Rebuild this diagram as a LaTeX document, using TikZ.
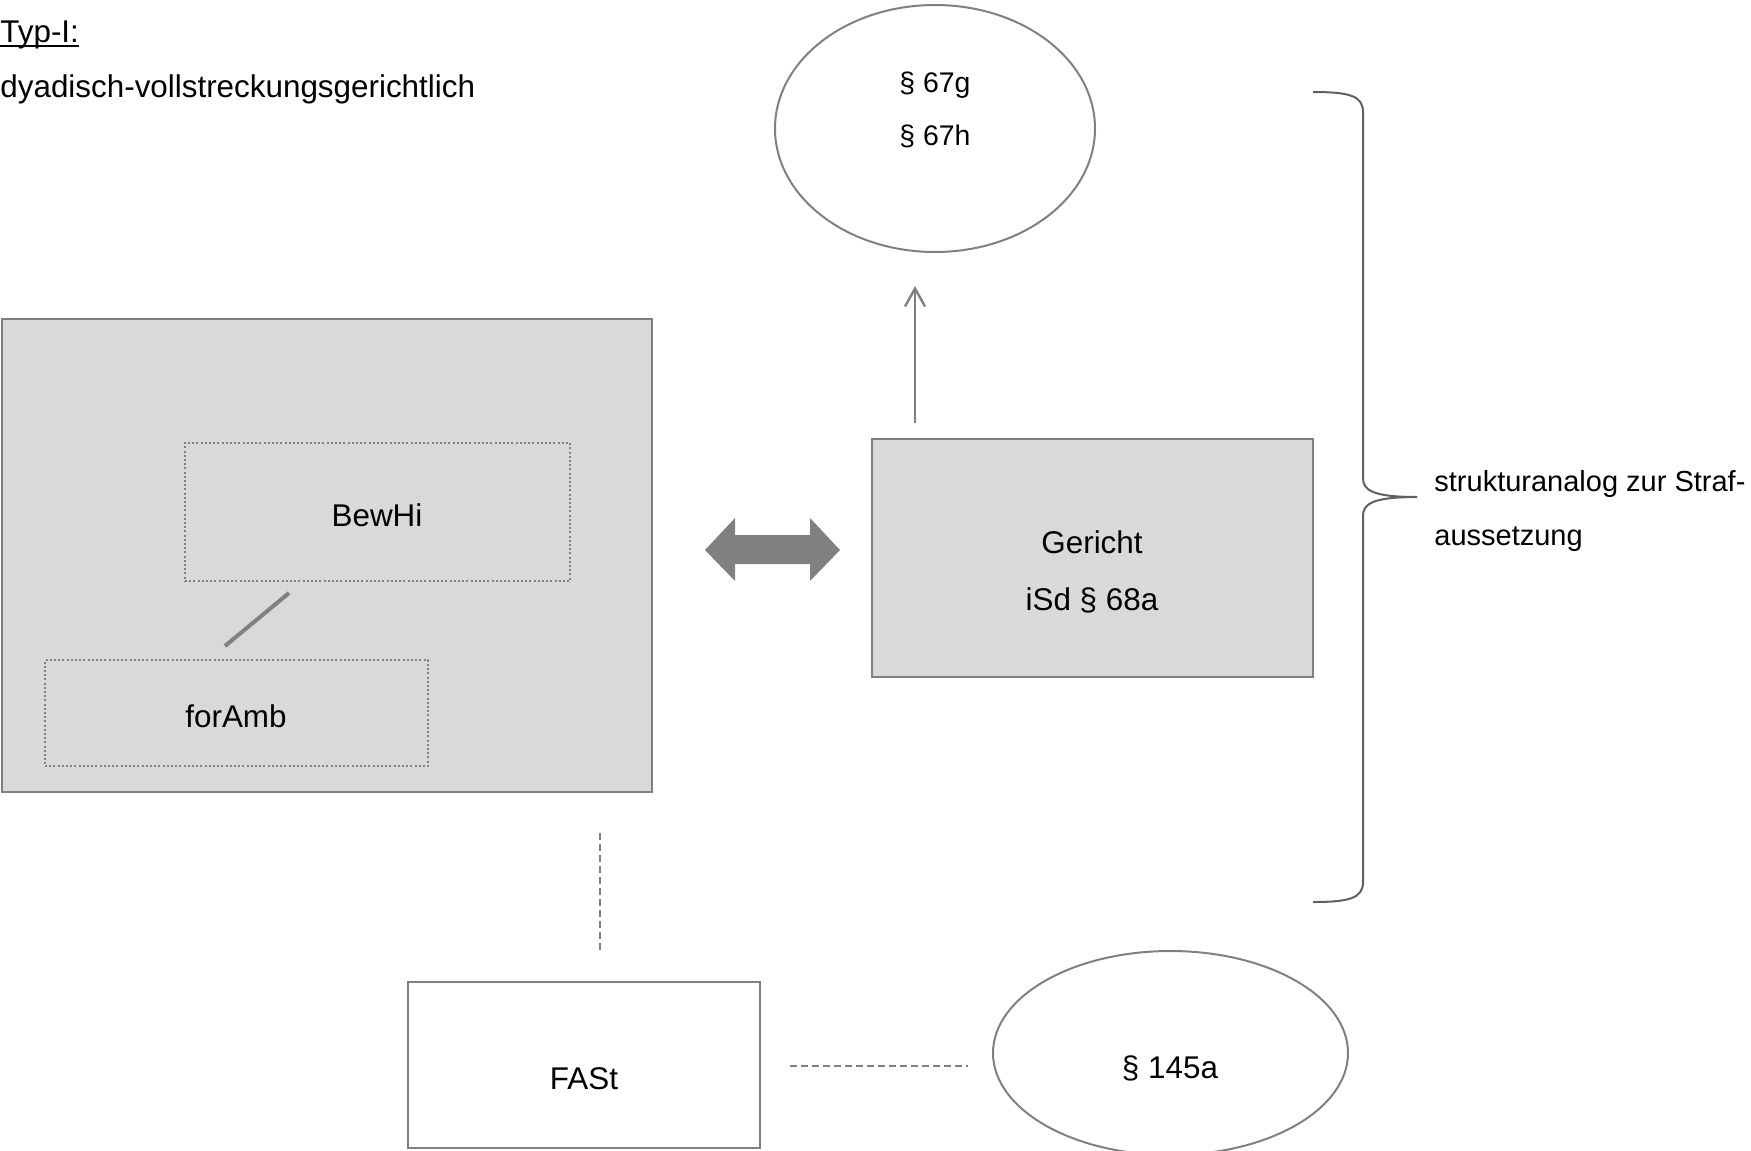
\documentclass[tikz,border=0pt]{standalone}
\usepackage{fontspec}
\setmainfont{Liberation Sans}
\usetikzlibrary{shapes.geometric,arrows.meta}
\definecolor{lineg}{HTML}{808080}
\definecolor{braceg}{HTML}{606060}
\definecolor{boxg}{HTML}{D9D9D9}
\newsavebox\ulbox
\newcommand\myul[1]{\sbox\ulbox{#1}\rlap{\rule[-2.5pt]{\wd\ulbox}{1pt}}\usebox\ulbox}
\begin{document}
\begin{tikzpicture}[x=0.5pt,y=-0.5pt,
  txt/.style={inner sep=0pt,font=\fontsize{15.7pt}{18pt}\selectfont},
  smalltxt/.style={inner sep=0pt,font=\fontsize{14.2pt}{17pt}\selectfont},
  sidetxt/.style={inner sep=0pt,anchor=base west,font=\fontsize{14.5pt}{17pt}\selectfont},
  graybox/.style={draw=lineg,fill=boxg,line width=1.3pt,inner sep=0pt},
  whitebox/.style={draw=lineg,fill=white,line width=1.3pt,inner sep=0pt},
  dotbox/.style={draw=lineg,line width=1pt,dash pattern=on 1pt off 1.1pt,inner sep=0pt},
  oval/.style={ellipse,draw=lineg,line width=1pt,inner sep=0pt},
  dashline/.style={draw=lineg,line width=1pt,dash pattern=on 3.5pt off 2pt},
]
\useasboundingbox (0,0) rectangle (1751,1151);

% title
\node[txt,anchor=base west] (typ) at (0,42) {\myul{Typ-I:}};
\node[txt,anchor=base west] (dyad) at (0,97) {dyadisch-vollstreckungsgerichtlich};

% top ellipse
\node[oval,minimum width=160pt,minimum height=123.5pt] (ell1) at (935,128.5) {};
\node[smalltxt,anchor=base] (p67g) at (935,92) {§ 67g};
\node[smalltxt,anchor=base] (p67h) at (935,145) {§ 67h};

% left big box
\node[graybox,minimum width=325pt,minimum height=236.5pt] (outer) at (327,555.5) {};
\node[dotbox,minimum width=192.5pt,minimum height=69pt] (bewbox) at (377.5,512) {};
\node[txt,anchor=base] (bew) at (377,526) {BewHi};
\node[dotbox,minimum width=191.5pt,minimum height=53pt] (forbox) at (236.5,713) {};
\node[txt,anchor=base] (for) at (236,727) {forAmb};
\coordinate (dA) at (289,593);
\coordinate (dB) at (225,646);
\draw[lineg,line width=2pt] (dA) -- (dB);

% Gericht
\node[graybox,minimum width=220.5pt,minimum height=119pt] (ger) at (1092.5,558) {};
\node[txt,anchor=base] (ger1) at (1092,553) {Gericht};
\node[txt,anchor=base] (ger2) at (1092,610) {iSd § 68a};

% up arrow
\coordinate (upS) at (915,423);
\coordinate (upE) at (915,286);
\draw[lineg,line width=1.2pt,-{Straight Barb[length=9pt,width=10pt]}] (upS) -- (upE);

% double block arrow
\fill[lineg] (705,550) -- (735,518) -- (735,535) -- (810,535) -- (810,518) -- (840,550)
  -- (810,581) -- (810,564) -- (735,564) -- (735,581) -- cycle;

% FASt
\node[whitebox,minimum width=176pt,minimum height=83pt] (fast) at (584,1065) {};
\node[txt,anchor=base] (fastt) at (584,1089) {FASt};
\coordinate (vA) at (600,833);
\coordinate (vB) at (600,950);
\draw[dashline] (vA) -- (vB);

% bottom ellipse
\node[oval,minimum width=177.5pt,minimum height=102pt] (ell2) at (1170.5,1053) {};
\node[txt,anchor=base] (p145) at (1170,1078) {§ 145a};
\coordinate (hA) at (790,1066);
\coordinate (hB) at (968,1066);
\draw[dashline] (hA) -- (hB);

% brace
\coordinate (brT) at (1313,92);
\coordinate (brB) at (1313,902);
\coordinate (brTip) at (1417,497);
\draw[braceg,line width=1pt] (brT) .. controls (1350,92) and (1363,96) .. (1363,112) -- (1363,478)
  .. controls (1363,490) and (1372,497) .. (brTip);
\draw[braceg,line width=1pt] (brB) .. controls (1350,902) and (1363,898) .. (1363,882) -- (1363,516)
  .. controls (1363,504) and (1372,497) .. (brTip);
\node[sidetxt] (s1) at (1434,491) {strukturanalog zur Straf-};
\node[sidetxt] (s2) at (1434,545) {aussetzung};
\end{tikzpicture}
\end{document}
